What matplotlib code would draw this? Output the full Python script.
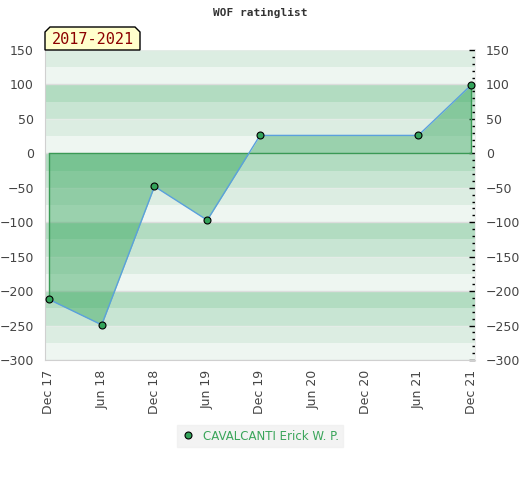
import numpy as np
import pandas as pd
import matplotlib
matplotlib.use('Agg')
import matplotlib.pyplot as plt
from matplotlib.patches import Polygon
from matplotlib.ticker import MultipleLocator

# data
dates = ['2017-12', '2018-06', '2018-12', '2019-06', '2019-12', '2021-06', '2021-12']
rating = [-212, -249, -48, -97, 26, 26, 99]
tick_dates = ['2017-12', '2018-06', '2018-12', '2019-06', '2019-12',
              '2020-06', '2020-12', '2021-06', '2021-12']
tick_labels = ['Dec 17', 'Jun 18', 'Dec 18', 'Jun 19', 'Dec 19',
               'Jun 20', 'Dec 20', 'Jun 21', 'Dec 21']
player = 'CAVALCANTI Erick W. P.'
period = '2017-2021'


def months(d):
    p = pd.Period(d, freq='M')
    return (p.year - 2017) * 12 + p.month - 12


x = np.array([months(d) for d in dates])
y = np.array(rating)
xt = [months(d) for d in tick_dates]

W, H = 520, 480
fig = plt.figure(figsize=(W / 100, H / 100), dpi=100)
ax = fig.add_axes([45 / W, 1 - 360 / H, 430 / W, 310 / H])

ymin, ymax = -300, 150
ax.set_xlim(x[0] - 0.45, x[-1] + 0.45)
ax.set_ylim(ymin, ymax)

# striped background, pattern repeats every 100
band_cols = ['#b2dcc1', '#c8e5d3', '#dcede2', '#eef6f1']
for top in range(200, ymin, -25):
    i = ((200 - top) // 25) % 4
    ax.axhspan(top - 25, top, color=band_cols[i], lw=0, zorder=0)
for g in range(ymin, ymax + 1, 50):
    ax.axhline(g, color='#dddddd' if g % 100 == 0 else '#e4ece7', lw=1, zorder=1)

# area to zero
ax.fill_between(x, y, 0, color='#2da255', alpha=0.43, lw=0, zorder=2)
ax.plot([x[0], x[-1]], [0, 0], color='#3a9a55', lw=1, zorder=3)
ax.vlines([x[0], x[-1]], 0, [y[0], y[-1]], color='#3a9a55', lw=1, zorder=3)
ax.plot(x, y, color='#5aa0dd', lw=1, zorder=4)
ax.plot(x, y, 'o', ms=5, mfc='#33a35a', mec='black', mew=0.8, zorder=5,
        label=player)

ax.set_xticks(xt)
ax.set_xticklabels(tick_labels, rotation=90, fontsize=9, color='#444444')
ax.tick_params(axis='x', length=0, pad=7)
ax.yaxis.set_major_locator(MultipleLocator(50))
ax.tick_params(axis='y', left=False, labelleft=True, right=True, labelright=True,
               direction='in', length=4, width=1, labelsize=9, pad=8,
               colors='black')
for lab in ax.get_yticklabels():
    lab.set_color('#444444')
ax.yaxis.set_minor_locator(MultipleLocator(10))
ax.tick_params(axis='y', which='minor', left=False, right=True, direction='in',
               length=2, width=1)

for s in ['top', 'right']:
    ax.spines[s].set_visible(False)
ax.spines['left'].set_color('#d0d0d0')
ax.spines['bottom'].set_color('#d0d0d0')
ax.spines['right'].set_visible(True)
ax.spines['right'].set_color('#eeeeee')

fig.text(0.5, 1 - 13 / H, 'WOF ratinglist', ha='center', va='center',
         fontsize=8, family='DejaVu Sans Mono', fontweight='bold', color='#333333')

# period label with chamfered corners
pts = [(45, 50), (45, 32), (50, 27), (135, 27), (140, 32), (140, 50)]
poly = Polygon([(px / W, 1 - py / H) for px, py in pts], closed=True,
               transform=fig.transFigure, facecolor='#ffffcc', edgecolor='black',
               lw=1, zorder=10)
fig.add_artist(poly)
fig.text(92.5 / W, 1 - 40 / H, period, ha='center', va='center', fontsize=11,
         family='DejaVu Sans Mono', color='#8b0000', zorder=11)

leg = ax.legend(loc='center', bbox_to_anchor=(260 / W, 1 - 436 / H),
                bbox_transform=fig.transFigure, frameon=True, fancybox=False,
                facecolor='#f0f0f0', edgecolor='#f0f0f0', fontsize=8.5,
                handletextpad=0.6, borderpad=0.4, handlelength=1.2)
for t in leg.get_texts():
    t.set_color('#3aa55a')

plt.savefig('out.png', dpi=100)
